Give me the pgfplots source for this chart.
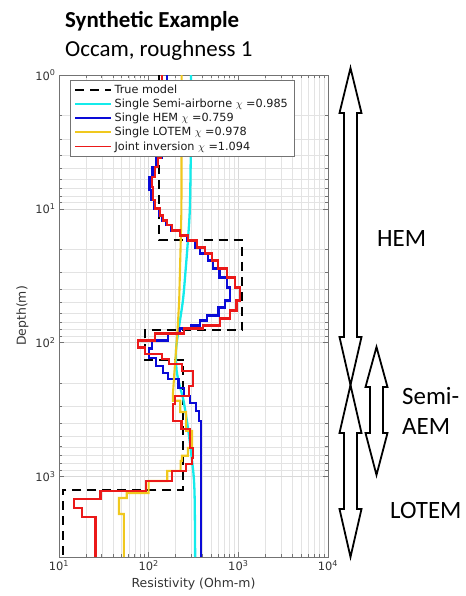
\documentclass[border=0pt]{standalone}
\usepackage{fontspec}
\setmainfont{Carlito}
\newfontfamily\dejavu{DejaVu Sans}
\usepackage{pgfplots}
\pgfplotsset{compat=1.18}

\definecolor{mcyan}{RGB}{20,235,235}
\definecolor{mblue}{RGB}{10,10,215}
\definecolor{myellow}{RGB}{240,200,30}
\definecolor{mred}{RGB}{235,25,25}

\begin{document}
\begin{tikzpicture}
\useasboundingbox (0,0) rectangle (466bp,596bp);
\begin{axis}[
  at={(59bp,39bp)}, anchor=south west,
  scale only axis, width=269bp, height=482bp,
  xmode=log, ymode=log, y dir=reverse,
  xmin=10, xmax=10000, ymin=1, ymax=4000,
  xtick={10,100,1000,10000},
  xticklabels={10\textsuperscript{1},10\textsuperscript{2},10\textsuperscript{3},10\textsuperscript{4}},
  ytick={1,10,100,1000},
  yticklabels={10\textsuperscript{0},10\textsuperscript{1},10\textsuperscript{2},10\textsuperscript{3}},
  grid=both,
  major grid style={draw=black!15, line width=0.6bp},
  minor grid style={draw=black!11, line width=0.5bp},
  axis line style={draw=black!55, line width=0.7bp},
  tick style={draw=black!55, line width=0.6bp},
  major tick length=5bp, minor tick length=3bp,
  tick label style={font=\dejavu\fontsize{11.5}{13}\selectfont, text=black!80},
  label style={font=\dejavu\fontsize{12.5}{14}\selectfont, text=black!80},
  xlabel={Resistivity (Ohm-m)},
  ylabel={Depth(m)},
  legend style={at={(0.041,0.99)}, anchor=north west, draw=black!55, fill=white,
    line width=0.6bp, font=\dejavu\fontsize{11.3}{13}\selectfont, text=black!90,
    inner xsep=4bp, inner ysep=2.5bp, row sep=0.2bp},
  legend cell align=left,
  legend image code/.code={\draw[#1] (0bp,0bp) -- (36bp,0bp);},
]
% True model
\addplot[black, line width=2bp, dash pattern=on 9bp off 6bp] coordinates {
(130,1)(130,17.2)(1100,17.2)(1100,81)(90,81)(90,134)(240,134)(240,1260)(11,1260)(11,4000)};
\addlegendentry{True model}
% Single Semi-airborne
\addplot[mcyan, line width=2.3bp, smooth] coordinates {
(296,1)(295,3.65)(288,9.9)(274,17.2)(258,29)(241,48.4)(215,81)(202,114)(205,162)(222,210)(245,272)(275,440)(300,700)(318,1000)(326,1500)(330,4000)};
\addlegendentry{Single Semi-airborne $\chi$ =0.985}
% Single HEM
\addplot[mblue, line width=2.3bp] coordinates {
(159,1)(159,3.65)(140,3.65)(140,4.18)(120,4.18)(120,4.89)(110,4.89)(110,5.81)(102,5.81)(102,7.27)(106,7.27)(106,8.64)(115,8.64)(115,9.92)(130,9.92)(130,11.19)(140,11.19)(140,12.20)(155,12.20)(155,13.29)(178,13.29)(178,14.49)(224,14.49)(224,15.79)(270,15.79)(270,17.22)(330,17.22)(330,19.43)(372,19.43)(372,21.54)(457,21.54)(457,24.31)(525,24.31)(525,27.91)(615,27.91)(615,32.60)(745,32.60)(745,38.73)(806,38.73)(806,48.45)(712,48.45)(712,54.67)(600,54.67)(600,62.80)(445,62.80)(445,68.43)(373,68.43)(373,74.58)(300,74.58)(300,78.54)(220,78.54)(220,85.62)(165,85.62)(165,96.60)(108,96.60)(108,110.9)(100,110.9)(100,129.5)(120,129.5)(120,148.7)(145,148.7)(145,167.8)(165,167.8)(165,186.1)(215,186.1)(215,217.3)(250,217.3)(250,249.5)(290,249.5)(290,281.5)(340,281.5)(340,323.2)(365,323.2)(365,383.9)(381,383.9)(381,4000)};
\addlegendentry{Single HEM $\chi$ =0.759}
% Single LOTEM
\addplot[myellow, line width=2.1bp] coordinates {
(233,1)(232,10)(228,17.2)(219,48.4)(210,81)(202,114)(193,172)(186,250)(186,272)(225,272)(225,330)(262,330)(262,456)(305,456)(305,612)(274,612)(274,700)(235,700)(235,765)(227,765)(227,909.6)(161,909.6)(161,1081)(100,1081)(100,1329)(57,1329)(57,1449)(46.7,1449)(46.7,1910)(53,1910)(53,4000)};
\addlegendentry{Single LOTEM $\chi$ =0.978}
% Joint inversion
\addplot[mred, line width=2.3bp, forget plot] coordinates {
(142,1)(142,3.65)(135,3.65)(135,4.18)(127,4.18)(127,4.89)(117,4.89)(117,5.81)(108,5.81)(108,6.90)(112,6.90)(112,8.64)(117,8.64)(117,9.92)(134,9.92)(134,11.19)(145,11.19)(145,12.20)(160,12.20)(160,13.29)(181,13.29)(181,14.49)(224,14.49)(224,15.79)(275,15.79)(275,17.22)(345,17.22)(345,19.43)(426,19.43)(426,21.54)(506,21.54)(506,24.31)(597,24.31)(597,27.91)(745,27.91)(745,32.60)(912,32.60)(912,38.73)(1046,38.73)(1046,48.45)(955,48.45)(955,57.58)(806,57.58)(806,66.11)(624,66.11)(624,74.58)(403,74.58)(403,78.54)(250,78.54)(250,85.62)(118,85.62)(118,96.60)(76,96.60)(76,109.0)(91,109.0)(91,120.9)(140,120.9)(140,131.8)(170,131.8)(170,143.7)(236,143.7)(236,162.1)(310,162.1)(310,210.0)(280,210.0)(280,249.5)(196,249.5)(196,286.4)(187,286.4)(187,383.9)(233,383.9)(233,440.9)(288,440.9)(288,611.7)(314,611.7)(314,726.6)(304,726.6)(304,806.2)(259,806.2)(259,909.6)(183,909.6)(183,1081)(93,1081)(93,1284)(29,1284)(29,1474)(14.7,1474)(14.7,1722)(18.2,1722)(18.2,2011)(25.6,2011)(25.6,4000)};
\addlegendimage{mred, line width=1.1bp}
\addlegendentry{Joint inversion $\chi$ =1.094}
\end{axis}

\begin{scope}[x=1bp, y=1bp]
\node[anchor=base west, inner sep=0, font=\bfseries\fontsize{23}{28}\selectfont] at (65,568) {Synthetic Example};
\node[anchor=base west, inner sep=0, font=\fontsize{23}{28}\selectfont] at (65,539) {Occam, roughness 1};
\begin{scope}[draw=black, fill=white, line width=1.8bp, line join=miter]
\filldraw (350.5,528) -- (361.5,483) -- (357,483) -- (357,259) -- (361.5,259) -- (350.5,211) -- (339.5,259) -- (344,259) -- (344,483) -- (339.5,483) -- cycle;
\filldraw (350.5,211) -- (361.5,163) -- (357,163) -- (357,87) -- (361.5,87) -- (350.5,39) -- (339.5,87) -- (344,87) -- (344,163) -- (339.5,163) -- cycle;
\filldraw (376.5,249) -- (387.5,209) -- (383,209) -- (383,163) -- (387.5,163) -- (376.5,121) -- (365.5,163) -- (370,163) -- (370,209) -- (365.5,209) -- cycle;
\end{scope}
\node[anchor=west, inner sep=0, font=\fontsize{25}{30}\selectfont] at (377,357) {HEM};
\node[anchor=west, inner sep=0, font=\fontsize{25}{30}\selectfont] at (402,200) {Semi-};
\node[anchor=west, inner sep=0, font=\fontsize{25}{30}\selectfont] at (402,169) {AEM};
\node[anchor=west, inner sep=0, font=\fontsize{25}{30}\selectfont] at (390,85) {LOTEM};
\end{scope}
\end{tikzpicture}
\end{document}
